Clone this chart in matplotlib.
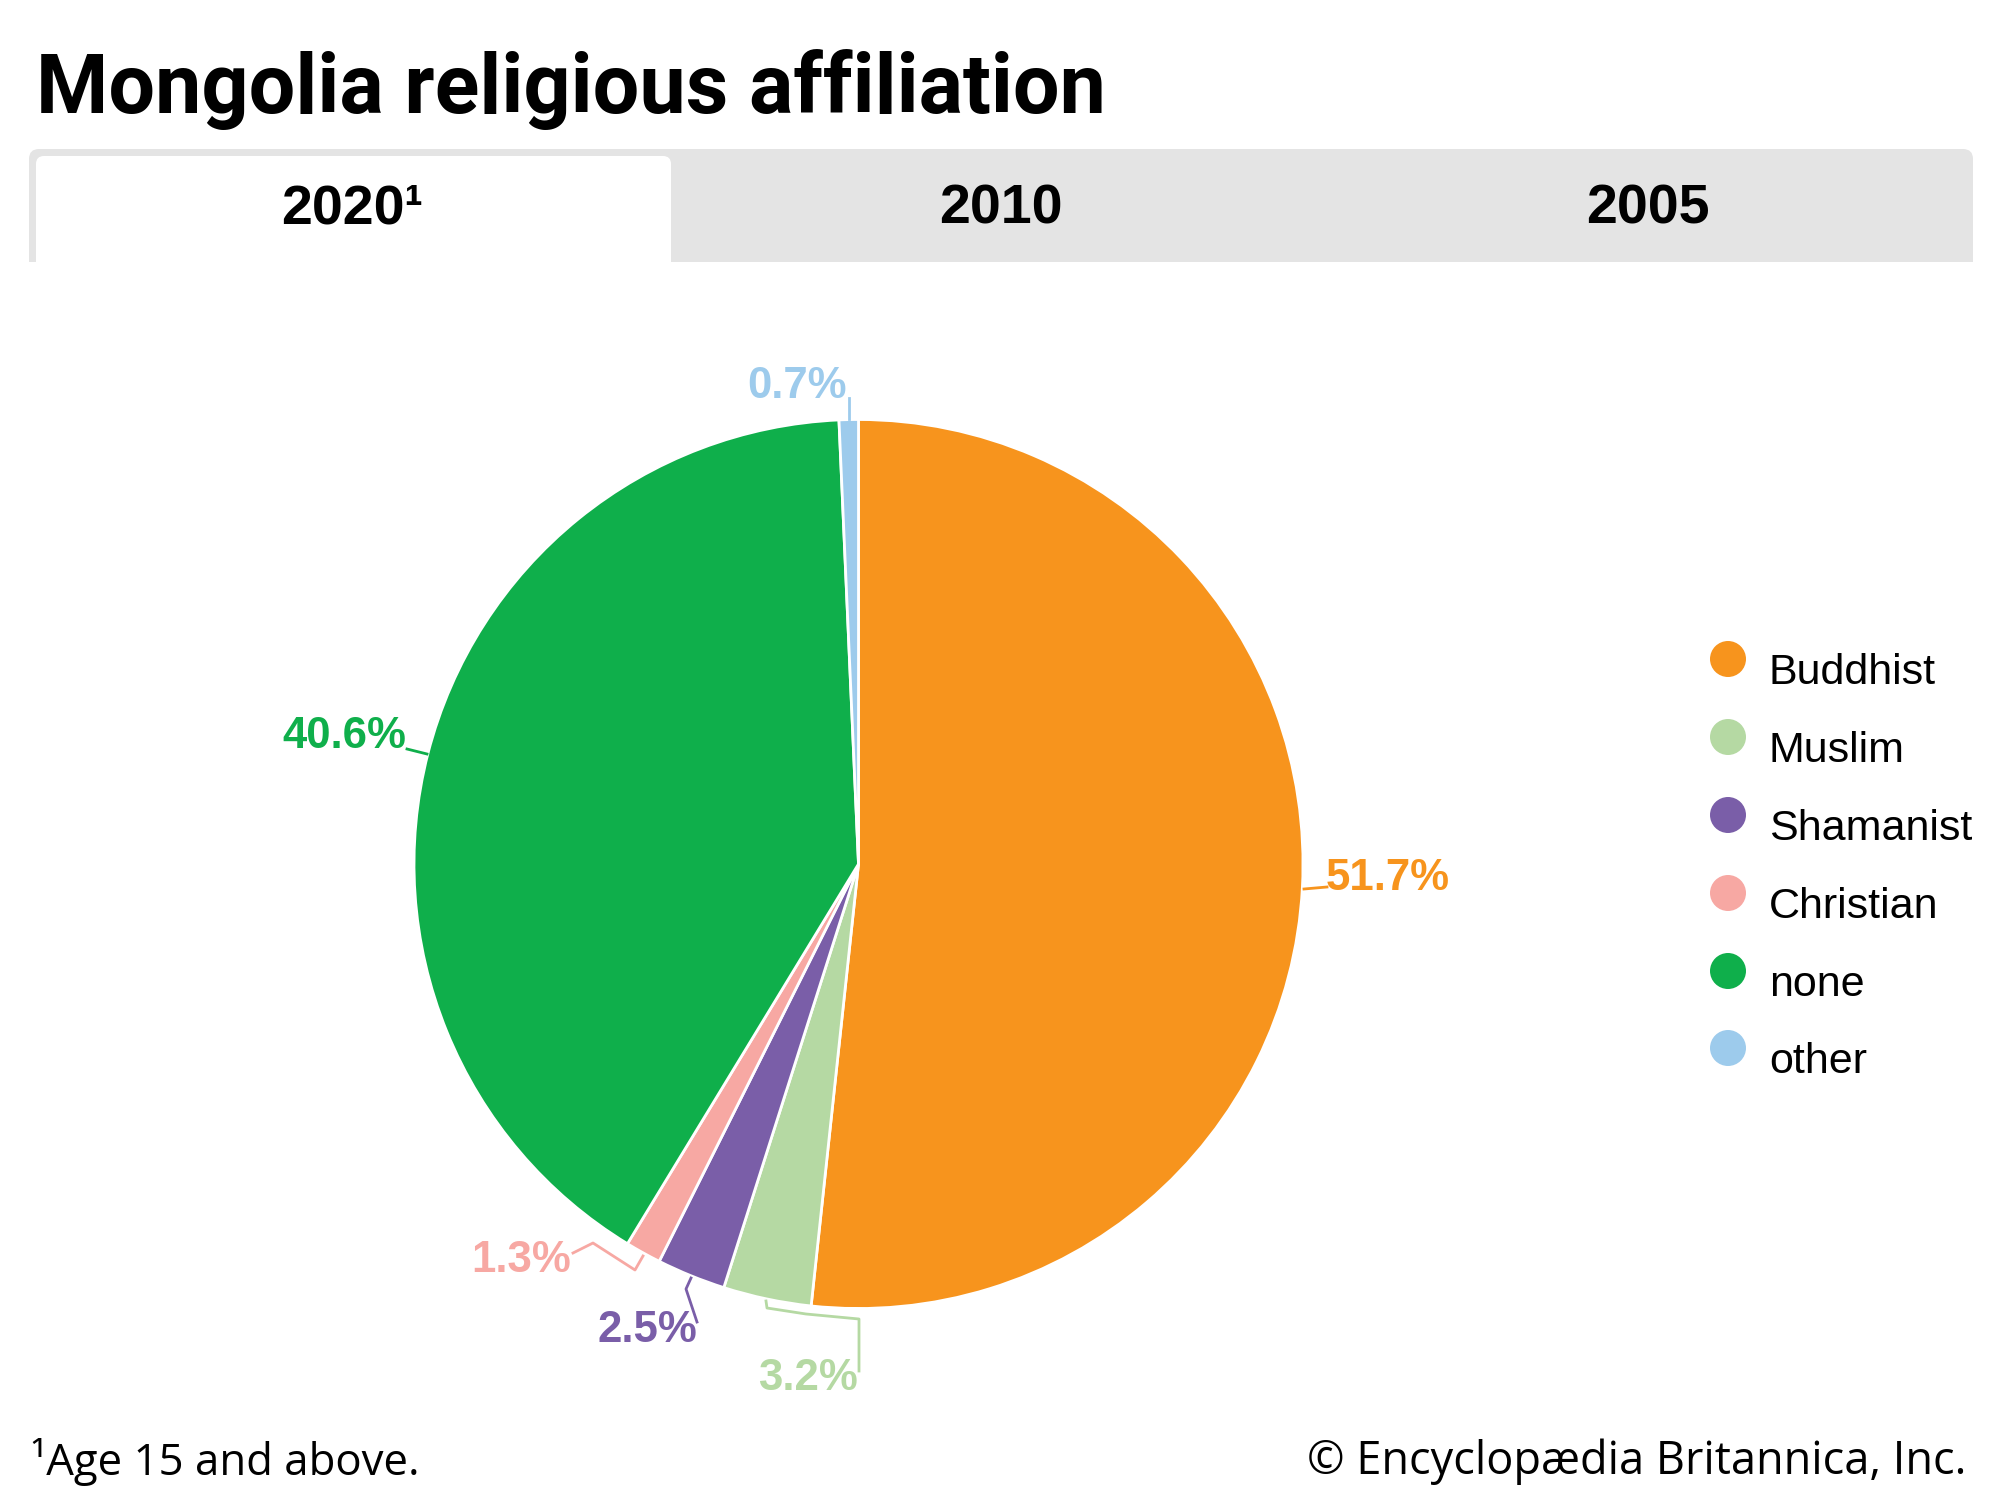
import matplotlib
matplotlib.use("Agg")
import matplotlib.pyplot as plt
from matplotlib.patches import FancyBboxPatch, Rectangle, Circle

# values from the 2020 tab, clockwise from 12 o'clock
religions = ["Buddhist", "Muslim", "Shamanist", "Christian", "none", "other"]
shares = [51.7, 3.2, 2.5, 1.3, 40.6, 0.7]
colors = ["#F7941D", "#B5D9A3", "#7A5EA8", "#F7A8A3", "#0FAF4B", "#9DCBEC"]

tabs = ["2020¹", "2010", "2005"]
tab_x = [352, 1001, 1648]

# label position (x, y, ha) and leader line for each slice, in image pixels
label_pos = [(1326, 879, "left"), (858, 1379, "right"), (697, 1331, "right"),
             (571, 1261, "right"), (406, 737, "right"), (847, 386, "right")]
leaders = [
    [(1304, 889), (1327, 887)],
    [(859, 1371), (859, 1319), (806, 1314), (767, 1308), (766, 1301)],
    [(697, 1322), (686, 1289), (691, 1278)],
    [(573, 1253), (593, 1243), (635, 1270), (643, 1256)],
    [(407, 749), (427, 754)],
    [(849, 398), (849, 419)],
]

W, H = 2000, 1500
label_font = "Liberation Sans"
text_font = "Open Sans"


def flip(y):
    return H - y


fig = plt.figure(figsize=(20, 15), dpi=100)
ax = fig.add_axes([0, 0, 1, 1])
ax.set_xlim(0, W)
ax.set_ylim(0, H)
ax.axis("off")

ax.text(36, flip(89), "Mongolia religious affiliation", fontsize=59.5, fontweight="bold",
        family="Roboto", va="center", ha="left", color="black")

# tab bar
ax.add_patch(FancyBboxPatch((29, flip(262)), 1944, 113, boxstyle="round,pad=0,rounding_size=10",
                            fc="#E4E4E4", ec="none"))
ax.add_patch(Rectangle((29, flip(262)), 1944, 20, fc="#E4E4E4", ec="none"))
ax.add_patch(FancyBboxPatch((36, flip(262)), 635, 106, boxstyle="round,pad=0,rounding_size=8",
                            fc="white", ec="none"))
ax.add_patch(Rectangle((36, flip(262)), 635, 20, fc="white", ec="none"))
for name, x in zip(tabs, tab_x):
    ax.text(x, flip(210), name, fontsize=40, fontweight="bold", family=label_font,
            ha="center", va="center", color="black")

# pie
wedges, _ = ax.pie(shares, colors=colors, startangle=90, counterclock=False,
                   center=(858.5, flip(864)), radius=444.5, frame=True,
                   wedgeprops={"edgecolor": "white", "linewidth": 2})
ax.set_xlim(0, W)
ax.set_ylim(0, H)
ax.set_aspect("equal")
ax.axis("off")

for share, color, (x, y, ha), line in zip(shares, colors, label_pos, leaders):
    ax.text(x, flip(y), f"{share}%", fontsize=31.5, fontweight="bold", family=label_font,
            color=color, ha=ha, va="center")
    ax.plot([p[0] for p in line], [flip(p[1]) for p in line], color=color, lw=2)

# legend
legend_y = [659, 737, 815, 893, 971, 1048]
for name, color, y in zip(religions, colors, legend_y):
    ax.add_patch(Circle((1728, flip(y)), 18, fc=color, ec="none"))
    ax.text(1769, flip(y + 14), name, fontsize=31, family=label_font, ha="left", va="center",
            color="black")

ax.text(31, flip(1462), "¹Age 15 and above.", fontsize=31.5, family=text_font, ha="left", va="center")
ax.text(1966, flip(1462), "© Encyclopædia Britannica, Inc.", fontsize=32.5, family=text_font,
        ha="right", va="center")

fig.savefig("out.png", dpi=100)
